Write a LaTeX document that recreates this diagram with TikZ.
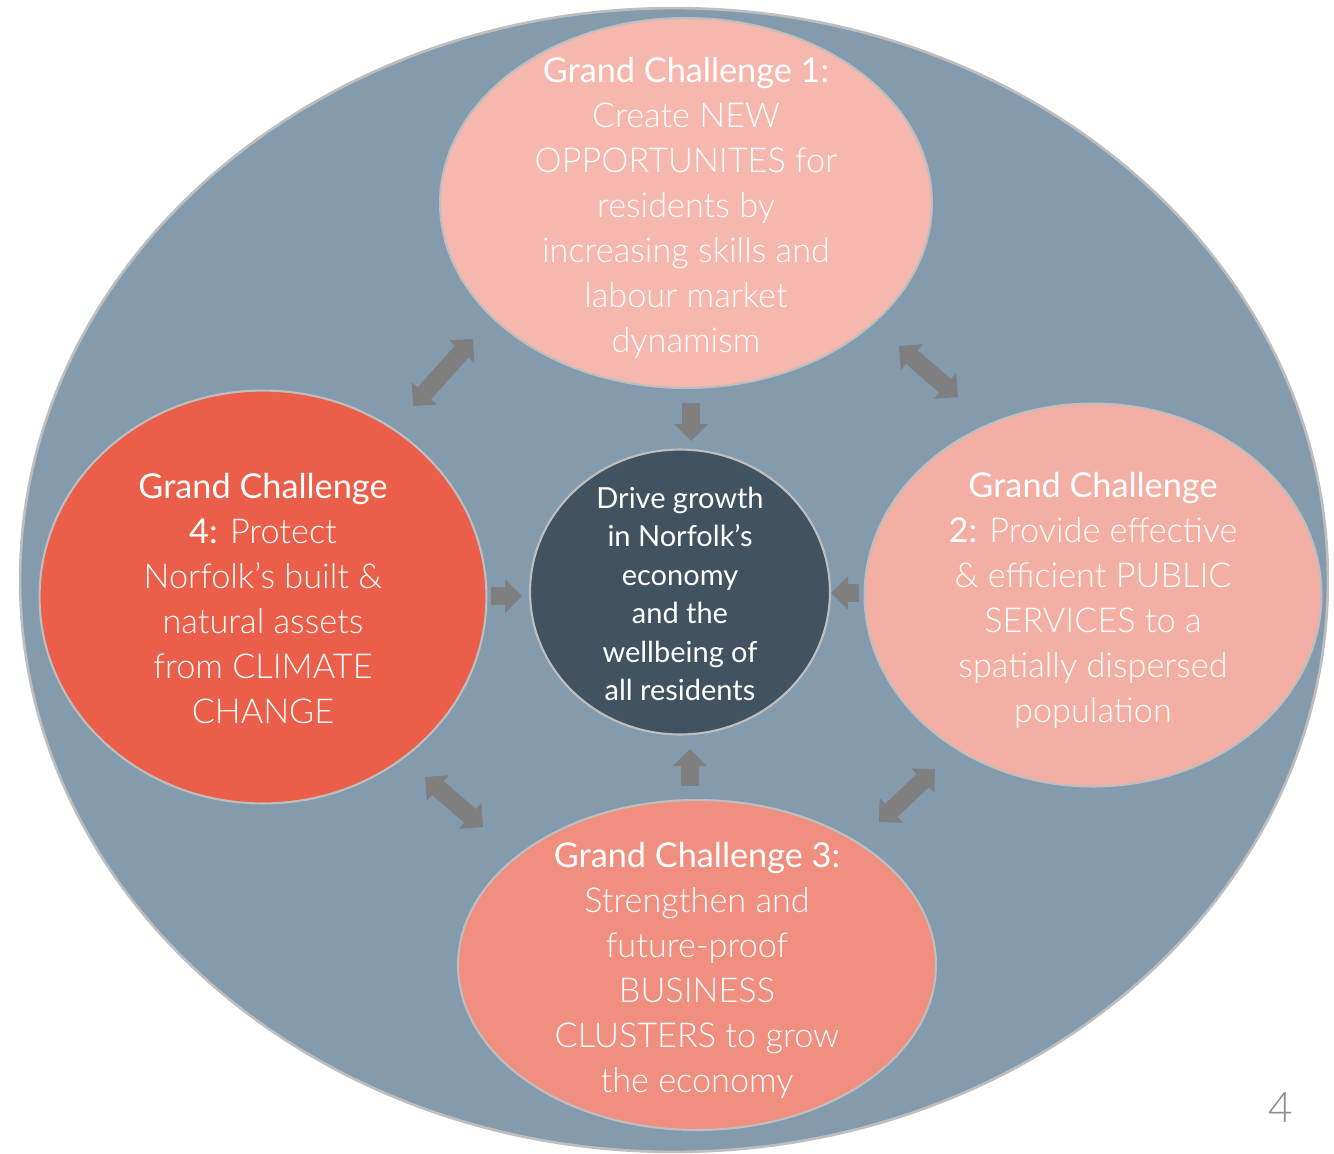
\documentclass[tikz,border=0pt]{standalone}
\usepackage{fontspec}
\setmainfont{Lato Light}
\newfontfamily\headfont{Lato}
\usepackage{tikz}
\usetikzlibrary{positioning,arrows.meta,shapes.geometric}
\definecolor{ringcolor}{RGB}{132, 155, 173}
\definecolor{rimcolor}{RGB}{190, 190, 190}
\definecolor{gcone}{RGB}{245, 183, 174}
\definecolor{gctwo}{RGB}{244, 175, 165}
\definecolor{gcthree}{RGB}{240, 142, 128}
\definecolor{gcfour}{RGB}{234, 94, 74}
\definecolor{hubcolor}{RGB}{65, 82, 96}
\definecolor{arrowgray}{RGB}{127, 127, 127}
\definecolor{pagegray}{RGB}{140, 140, 140}
\tikzset{
    ring/.style={ellipse, draw=rimcolor, line width=1.5pt, fill=ringcolor, inner sep=0pt},
    challenge/.style={ellipse, draw=rimcolor, line width=1.2pt, inner sep=0pt},
    challenge text/.style={text=white, align=center, inner sep=0pt, font=\fontsize{19.5}{25.6}\selectfont},
    hub/.style={ellipse, draw=rimcolor, line width=1.2pt, fill=hubcolor, inner sep=0pt},
    hub text/.style={text=white, align=center, inner sep=0pt, font=\headfont\fontsize{16.5}{21.9}\selectfont},
    flow arrow/.style={draw=arrowgray, line width=0.36cm, -{Triangle[width=0.68cm, length=0.34cm, line width=0pt]}},
    link arrow/.style={draw=arrowgray, line width=0.36cm, {Triangle[width=0.68cm, length=0.34cm, line width=0pt]}-{Triangle[width=0.68cm, length=0.34cm, line width=0pt]}},
    page label/.style={text=pagegray, font=\fontsize{24}{24}\selectfont}
}
\newcommand{\gchead}[1]{{\headfont #1}}

\begin{document}
\begin{tikzpicture}[x=0.02cm, y=-0.02cm]
    \useasboundingbox (0,0) rectangle (1334,1153);

    % Outer ring
    \node[ring, minimum width=26.16cm, minimum height=22.88cm] (ring) at (674,580) {};

    % The four grand challenges
    \node[challenge, fill=gcone, minimum width=9.84cm, minimum height=7.4cm] (GC-1) at (686,203) {};
    \node[challenge, fill=gctwo, minimum width=9.14cm, minimum height=7.66cm] (GC-2) at (1093,595) {};
    \node[challenge, fill=gcthree, minimum width=9.56cm, minimum height=6.6cm] (GC-3) at (697,965) {};
    \node[challenge, fill=gcfour, minimum width=8.94cm, minimum height=8.26cm] (GC-4) at (263,597) {};

    \node[challenge text] (GC-1-text) at ([yshift=-3pt]GC-1)
        {\gchead{Grand Challenge 1:}\\Create NEW\\OPPORTUNITES for\\residents by\\increasing skills and\\labour market\\dynamism};
    \node[challenge text] (GC-2-text) at ([yshift=-3pt]GC-2)
        {\gchead{Grand Challenge}\\\gchead{2:} Provide effective\\\& efficient PUBLIC\\SERVICES to a\\spatially dispersed\\population};
    \node[challenge text] (GC-3-text) at ([yshift=-3pt]GC-3)
        {\gchead{Grand Challenge 3:}\\Strengthen and\\future-proof\\BUSINESS\\CLUSTERS to grow\\the economy};
    \node[challenge text] (GC-4-text) at ([yshift=-1pt]GC-4)
        {\gchead{Grand Challenge}\\\gchead{4:} Protect\\Norfolk’s built \&\\natural assets\\from CLIMATE\\CHANGE};

    % Centre
    \node[hub, minimum width=6.0cm, minimum height=5.7cm] (hub) at (680,592) {};
    \node[hub text] (hub-text) at ([yshift=-1pt]hub)
        {Drive growth\\in Norfolk’s\\economy\\and the\\wellbeing of\\all residents};

    % Arrow ends
    \coordinate (in-1a) at (691,403);  \coordinate (in-1b) at (691,441);
    \coordinate (in-2a) at (859,593);  \coordinate (in-2b) at (831,593);
    \coordinate (in-3a) at (690,786);  \coordinate (in-3b) at (690,749);
    \coordinate (in-4a) at (491,596);  \coordinate (in-4b) at (522,596);
    \coordinate (ln-14a) at (413,406); \coordinate (ln-14b) at (473,339);
    \coordinate (ln-12a) at (899,346); \coordinate (ln-12b) at (958,397);
    \coordinate (ln-43a) at (425,777); \coordinate (ln-43b) at (483,827);
    \coordinate (ln-32a) at (879,822); \coordinate (ln-32b) at (935,769);

    % Arrows into the centre
    \foreach \i in {1,2,3,4} {
        \draw[flow arrow] (in-\i a) -- (in-\i b);
    }

    % Arrows between neighbouring challenges
    \foreach \p in {14,12,43,32} {
        \draw[link arrow] (ln-\p a) -- (ln-\p b);
    }

    % Page number
    \node[page label] (page) at (1281,1108) {4};
\end{tikzpicture}
\end{document}
